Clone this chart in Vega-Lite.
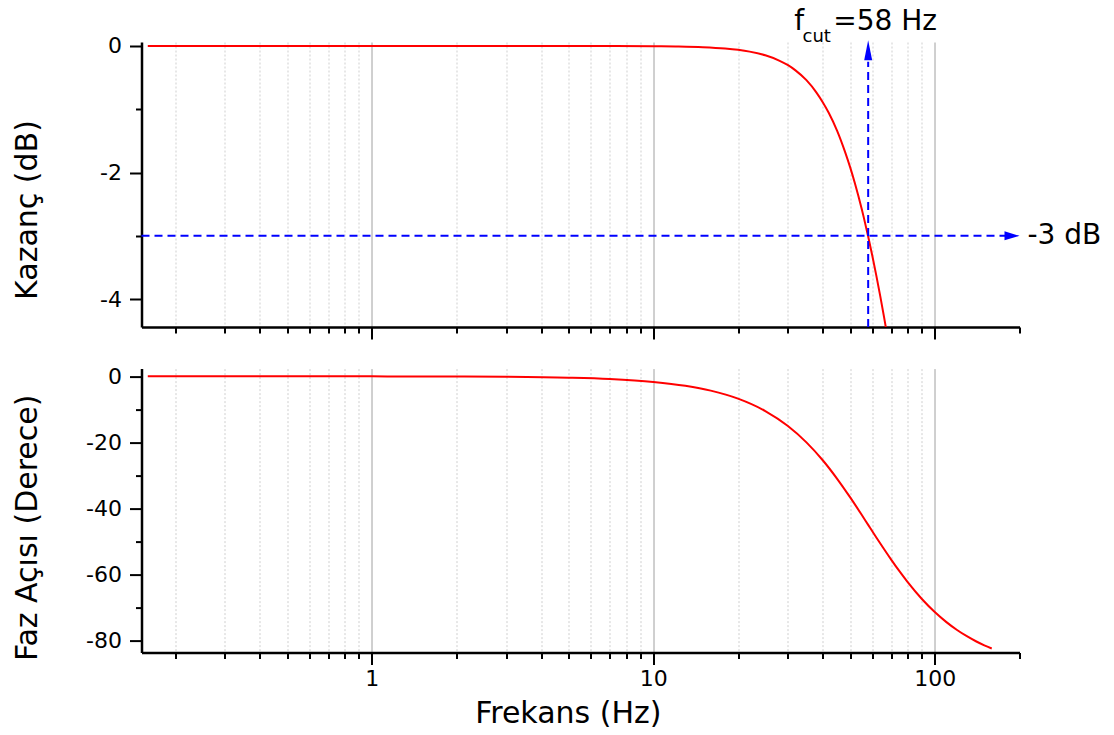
{
  "$schema": "https://vega.github.io/schema/vega-lite/v6.json",
  "background": "white",
  "padding": {"left": 11.5, "top": 7, "right": 5, "bottom": 5},
  "bounds": "flush",
  "spacing": 41.6,
  "config": {
    "view": {"stroke": null},
    "font": "DejaVu Sans",
    "axis": {
      "domainColor": "black",
      "domainWidth": 2.5,
      "tickColor": "black",
      "tickWidth": 2,
      "labelFont": "DejaVu Sans",
      "labelFontSize": 22,
      "labelColor": "black",
      "titleFont": "DejaVu Sans",
      "titleFontSize": 30,
      "titleFontWeight": "normal",
      "titleColor": "black",
      "labelOverlap": false,
      "labelFlush": false
    }
  },
  "vconcat": [
    {
      "width": 878,
      "height": 285,
      "resolve": {"axis": {"x": "independent", "y": "independent"}},
      "layer": [
        {
          "data": {"values": [
            {"f": 0.16, "g": 0}, {"f": 0.3, "g": 0}, {"f": 0.5, "g": 0}, {"f": 1, "g": 0}, {"f": 2, "g": 0}, {"f": 3, "g": 0},
            {"f": 5, "g": -0.0002}, {"f": 7, "g": -0.0009}, {"f": 10, "g": -0.0038}, {"f": 12, "g": -0.008}, {"f": 15, "g": -0.019},
            {"f": 18, "g": -0.040}, {"f": 20, "g": -0.061}, {"f": 22, "g": -0.089}, {"f": 25, "g": -0.147}, {"f": 28, "g": -0.230},
            {"f": 30, "g": -0.300}, {"f": 32, "g": -0.385}, {"f": 35, "g": -0.540}, {"f": 38, "g": -0.736}, {"f": 40, "g": -0.888},
            {"f": 42, "g": -1.055}, {"f": 45, "g": -1.340}, {"f": 48, "g": -1.672}, {"f": 50, "g": -1.910}, {"f": 52, "g": -2.165},
            {"f": 55, "g": -2.573}, {"f": 56, "g": -2.716}, {"f": 58, "g": -3.01}, {"f": 60, "g": -3.315}, {"f": 62, "g": -3.628},
            {"f": 64, "g": -3.948}, {"f": 66, "g": -4.275}, {"f": 67, "g": -4.443}
          ]},
          "mark": {"type": "line", "color": "#ff0000", "strokeWidth": 2, "interpolate": "monotone", "clip": true},
          "encoding": {
            "x": {
              "field": "f", "type": "quantitative",
              "scale": {"type": "log", "domain": [0.152, 200], "nice": false},
              "axis": {
                "values": [0.2, 0.3, 0.4, 0.5, 0.6, 0.7, 0.8, 0.9, 1, 2, 3, 4, 5, 6, 7, 8, 9, 10, 20, 30, 40, 50, 60, 70, 80, 90, 100, 200],
                "labels": false,
                "title": null,
                "grid": true,
                "gridColor": {"condition": {"test": "datum.value == 1 || datum.value == 10 || datum.value == 100", "value": "#a0a0a0"}, "value": "#cfcfcf"},
                "gridDash": {"condition": {"test": "datum.value == 1 || datum.value == 10 || datum.value == 100", "value": []}, "value": [2, 2]},
                "gridOpacity": {"condition": {"test": "datum.value == 200", "value": 0}, "value": 1},
                "tickSize": {"condition": {"test": "datum.value == 1 || datum.value == 10 || datum.value == 100", "value": 12}, "value": 6}
              }
            },
            "y": {
              "field": "g", "type": "quantitative",
              "scale": {"domain": [-4.44, 0.063], "nice": false, "zero": false},
              "axis": {
                "values": [0, -1, -2, -3, -4],
                "grid": false,
                "tickSize": {"condition": {"test": "datum.value % 2 == 0", "value": 12}, "value": 6},
                "labelExpr": "datum.value % 2 == 0 ? '' + datum.value : ''",
                "labelPadding": 8,
                "title": "Kazanç  (dB)",
                "titleAngle": -90,
                "titleAlign": "center",
                "titleBaseline": "alphabetic",
                "titleX": -105,
                "titleY": 167.5
              }
            }
          }
        },
        {
          "data": {"values": [{"x1": 0.152, "x2": 180, "y": -3}]},
          "mark": {"type": "rule", "color": "#0000ff", "strokeWidth": 2, "strokeDash": [8, 5]},
          "encoding": {
            "x": {"field": "x1", "type": "quantitative", "scale": {"type": "log", "domain": [0.152, 200], "nice": false}, "axis": null},
            "x2": {"field": "x2"},
            "y": {"field": "y", "type": "quantitative", "scale": {"domain": [-4.44, 0.063], "nice": false, "zero": false}, "axis": null}
          }
        },
        {
          "data": {"values": [{"x": 58, "y1": -4.44, "y2": -0.25}]},
          "mark": {"type": "rule", "color": "#0000ff", "strokeWidth": 2, "strokeDash": [8, 5]},
          "encoding": {
            "x": {"field": "x", "type": "quantitative", "scale": {"type": "log", "domain": [0.152, 200], "nice": false}, "axis": null},
            "y": {"field": "y1", "type": "quantitative", "scale": {"domain": [-4.44, 0.063], "nice": false, "zero": false}, "axis": null},
            "y2": {"field": "y2"}
          }
        },
        {
          "data": {"values": [{"x": 200, "y": -3}]},
          "mark": {"type": "point", "shape": "M0,0L-2,-0.6L-2,0.6Z", "size": 225, "filled": true, "color": "#0000ff", "opacity": 1, "strokeWidth": 0},
          "encoding": {
            "x": {"field": "x", "type": "quantitative", "scale": {"type": "log", "domain": [0.152, 200], "nice": false}, "axis": null},
            "y": {"field": "y", "type": "quantitative", "scale": {"domain": [-4.44, 0.063], "nice": false, "zero": false}, "axis": null}
          }
        },
        {
          "data": {"values": [{"x": 58, "y": 0.09}]},
          "mark": {"type": "point", "shape": "M0,0L-0.8,4L0.8,4Z", "size": 100, "filled": true, "color": "#0000ff", "opacity": 1, "strokeWidth": 0},
          "encoding": {
            "x": {"field": "x", "type": "quantitative", "scale": {"type": "log", "domain": [0.152, 200], "nice": false}, "axis": null},
            "y": {"field": "y", "type": "quantitative", "scale": {"domain": [-4.44, 0.063], "nice": false, "zero": false}, "axis": null}
          }
        },
        {
          "data": {"values": [{"x": 31.7, "y": 0.26, "t": "f"}, {"x": 43.6, "y": 0.26, "t": "=58 Hz"}]},
          "mark": {"type": "text", "fontSize": 28, "align": "left", "baseline": "alphabetic", "color": "black", "font": "DejaVu Sans"},
          "encoding": {
            "x": {"field": "x", "type": "quantitative", "scale": {"type": "log", "domain": [0.152, 200], "nice": false}, "axis": null},
            "y": {"field": "y", "type": "quantitative", "scale": {"domain": [-4.44, 0.063], "nice": false, "zero": false}, "axis": null},
            "text": {"field": "t"}
          }
        },
        {
          "data": {"values": [{"x": 33.9, "y": 0.063, "t": "cut"}]},
          "mark": {"type": "text", "fontSize": 18, "align": "left", "baseline": "alphabetic", "color": "black", "font": "DejaVu Sans"},
          "encoding": {
            "x": {"field": "x", "type": "quantitative", "scale": {"type": "log", "domain": [0.152, 200], "nice": false}, "axis": null},
            "y": {"field": "y", "type": "quantitative", "scale": {"domain": [-4.44, 0.063], "nice": false, "zero": false}, "axis": null},
            "text": {"field": "t"}
          }
        },
        {
          "data": {"values": [{"x": 200, "y": -3, "t": "-3 dB"}]},
          "mark": {"type": "text", "fontSize": 28, "align": "left", "baseline": "middle", "dx": 8, "color": "black", "font": "DejaVu Sans"},
          "encoding": {
            "x": {"field": "x", "type": "quantitative", "scale": {"type": "log", "domain": [0.152, 200], "nice": false}, "axis": null},
            "y": {"field": "y", "type": "quantitative", "scale": {"domain": [-4.44, 0.063], "nice": false, "zero": false}, "axis": null},
            "text": {"field": "t"}
          }
        }
      ]
    },
    {
      "width": 878,
      "height": 284,
      "layer": [
        {
          "data": {"values": [
            {"f": 0.16, "p": 0}, {"f": 0.5, "p": 0}, {"f": 1, "p": -0.02}, {"f": 2, "p": -0.07}, {"f": 3, "p": -0.15},
            {"f": 5, "p": -0.43}, {"f": 7, "p": -0.83}, {"f": 10, "p": -1.70}, {"f": 13, "p": -2.88}, {"f": 16, "p": -4.35},
            {"f": 20, "p": -6.78}, {"f": 25, "p": -10.53}, {"f": 30, "p": -14.98}, {"f": 35, "p": -20.01}, {"f": 40, "p": -25.43},
            {"f": 45, "p": -31.05}, {"f": 50, "p": -36.62}, {"f": 55, "p": -41.96}, {"f": 58, "p": -45.0}, {"f": 62, "p": -48.81},
            {"f": 66, "p": -52.32}, {"f": 70, "p": -55.53}, {"f": 75, "p": -59.12}, {"f": 80, "p": -62.27}, {"f": 90, "p": -67.45},
            {"f": 100, "p": -71.41}, {"f": 110, "p": -74.46}, {"f": 120, "p": -76.85}, {"f": 130, "p": -78.74}, {"f": 140, "p": -80.26},
            {"f": 150, "p": -81.5}, {"f": 159.4, "p": -82.46}
          ]},
          "mark": {"type": "line", "color": "#ff0000", "strokeWidth": 2, "interpolate": "monotone", "clip": true},
          "encoding": {
            "x": {
              "field": "f", "type": "quantitative",
              "scale": {"type": "log", "domain": [0.152, 200], "nice": false},
              "axis": {
                "values": [0.2, 0.3, 0.4, 0.5, 0.6, 0.7, 0.8, 0.9, 1, 2, 3, 4, 5, 6, 7, 8, 9, 10, 20, 30, 40, 50, 60, 70, 80, 90, 100, 200],
                "labelExpr": "datum.value == 1 || datum.value == 10 || datum.value == 100 ? '' + datum.value : ''",
                "labelPadding": 4,
                "grid": true,
                "gridColor": {"condition": {"test": "datum.value == 1 || datum.value == 10 || datum.value == 100", "value": "#a0a0a0"}, "value": "#cfcfcf"},
                "gridDash": {"condition": {"test": "datum.value == 1 || datum.value == 10 || datum.value == 100", "value": []}, "value": [2, 2]},
                "gridOpacity": {"condition": {"test": "datum.value == 200", "value": 0}, "value": 1},
                "tickSize": {"condition": {"test": "datum.value == 1 || datum.value == 10 || datum.value == 100", "value": 12}, "value": 6},
                "title": "Frekans  (Hz)",
                "titleAlign": "center",
                "titleBaseline": "alphabetic",
                "titleX": 426.3,
                "titleY": 69.4
              }
            },
            "y": {
              "field": "p", "type": "quantitative",
              "scale": {"domain": [-83.7, 2.33], "nice": false, "zero": false},
              "axis": {
                "values": [0, -10, -20, -30, -40, -50, -60, -70, -80],
                "grid": false,
                "tickSize": {"condition": {"test": "datum.value % 20 == 0", "value": 12}, "value": 6},
                "labelExpr": "datum.value % 20 == 0 ? '' + datum.value : ''",
                "labelPadding": 8,
                "title": "Faz Açısı  (Derece)",
                "titleAngle": -90,
                "titleAlign": "center",
                "titleBaseline": "alphabetic",
                "titleX": -105,
                "titleY": 158.7
              }
            }
          }
        }
      ]
    }
  ]
}
